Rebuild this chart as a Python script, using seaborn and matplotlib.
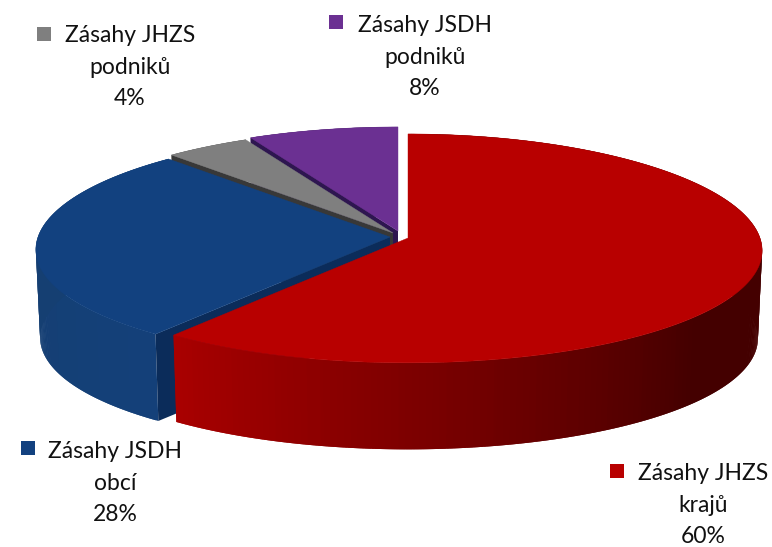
#!/usr/bin/env python3
"""3D pie of fire brigade interventions, drawn on a seaborn themed axes"""

import numpy as np
import seaborn as sns
import matplotlib.pyplot as plt

# clockwise from 12 o'clock
names = ["Zásahy JHZS\nkrajů", "Zásahy JSDH\nobcí", "Zásahy JHZS\npodniků", "Zásahy JSDH\npodniků"]
shares = [60.4, 27.7, 4.3, 7.6]
percent_labels = ["60%", "28%", "4%", "8%"]
top_colors = ["#b80000", "#12417f", "#7f7f7f", "#6b3092"]
cut_colors = ["#7a0000", "#0b2c5a", "#383838", "#2e1650"]
side_front = ["#aa0000", "#144079", "#555555", "#40205a"]
side_back = ["#440000", "#153f72", "#555555", "#40205a"]

# layout, in pixels of the picture
apex_x = [408, 390, 393, 398]
apex_y = [238, 237, 233, 231]
marker_x = [617, 28, 44, 336]
marker_y = [471, 448, 34, 22]
label_x = [703, 115, 130, 425]
label_y = [505, 483, 67, 57]
RX, RY, PERSP, PERSP_X, DEPTH, BOTTOM_SCALE = 352, 113.5, 0.0909, 0.11, 88, 0.988

sns.set_theme(style="white")
plt.rcParams["font.family"] = ["Lato", "DejaVu Sans"]


def rim(theta, x0, y0, drop=0, scale=1.0):
    """project points of the pie rim, theta in degrees clockwise from the back"""
    t = np.radians(theta)
    sx = scale / (1 + PERSP_X * np.cos(t))
    sy = scale / (1 + PERSP * np.cos(t))
    return x0 + RX * np.sin(t) * sx, y0 + drop + RY * -np.cos(t) * sy


fig, ax = plt.subplots(figsize=(7.72, 5.47), dpi=100)
ax.set_position([0, 0, 1, 1])
ax.set_xlim(0, 772)
ax.set_ylim(547, 0)
ax.axis("off")

edges = np.concatenate([[0], np.cumsum(shares)]) / np.sum(shares) * 360

# back slices first so the front ones overlap them
for i in [3, 2, 1, 0]:
    start, end = edges[i], edges[i + 1]
    x0, y0 = apex_x[i], apex_y[i]
    layer = 4 * (3 - i)

    # outer wall, only the front part ends up visible
    n = max(int((end - start) * 2), 2)
    steps = np.linspace(start, end, n + 1)
    wall = sns.blend_palette([side_back[i], side_front[i]], 90)
    for j in range(n):
        a = steps[j]
        # each strip runs on under the next one, that hides the seams
        b = steps[min(j + 2, n)]
        xa, ya = rim(a, x0, y0)
        xb, yb = rim(b, x0, y0)
        xc, yc = rim(b, x0, y0, DEPTH, BOTTOM_SCALE)
        xd, yd = rim(a, x0, y0, DEPTH, BOTTOM_SCALE)
        if i == 1:
            shade = (270 - a) / 50
        else:
            shade = (a - 130) / (end - 130)
        ax.fill([xa, xb, xc, xd], [ya, yb, yc, yd], color=wall[int(np.clip(shade, 0, 1) * 89)],
                lw=0, zorder=1 + layer)

    # cut face along the starting edge
    xs, ys = rim(start, x0, y0)
    xe, ye = rim(start, x0, y0, DEPTH, BOTTOM_SCALE)
    ax.fill([x0, xs, xe, x0], [y0, ys, ye, y0 + DEPTH], color=cut_colors[i], lw=0, zorder=2 + layer)

    # top surface
    arc_x, arc_y = rim(np.linspace(start, end, 200), x0, y0)
    ax.fill(np.r_[x0, arc_x], np.r_[y0, arc_y], color=top_colors[i], lw=0.3, zorder=3 + layer)

# data labels with their legend keys
for i in range(len(names)):
    ax.scatter(marker_x[i], marker_y[i], marker="s", s=115, color=top_colors[i], linewidths=0, zorder=30)
    ax.text(label_x[i], label_y[i], names[i] + "\n" + percent_labels[i], ha="center", va="center",
            fontsize=16.5, color="#111111", linespacing=1.62, zorder=30)

fig.savefig("out.png", dpi=100)
